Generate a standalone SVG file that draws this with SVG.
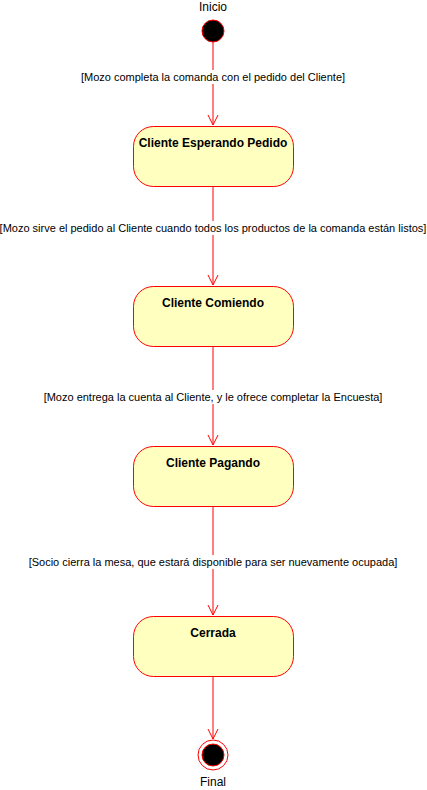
<svg xmlns="http://www.w3.org/2000/svg" width="427" height="790" viewBox="0 0 427 790">
<style>
.state{fill:#ffffc0;stroke:#ff0000;stroke-width:1}
.title{font-family:"Liberation Sans",Arial,sans-serif;font-size:12px;font-weight:bold;fill:#000;text-anchor:middle}
.lbl{font-family:"Liberation Sans",Arial,sans-serif;font-size:11px;fill:#000;text-anchor:middle}
.cap{font-family:"Liberation Sans",Arial,sans-serif;font-size:12px;fill:#000;text-anchor:middle}
.edge{stroke:#ff0000;stroke-width:1;fill:none}
.bg{fill:#ffffff}
</style>
<defs>
<marker id="arr" markerWidth="12" markerHeight="12" refX="10" refY="5" orient="auto" markerUnits="userSpaceOnUse" viewBox="0 0 12 10">
<path d="M0,0 L10,5 L0,10" fill="none" stroke="#ff0000" stroke-width="1"/>
</marker>
</defs>
<rect width="427" height="790" fill="#ffffff"/>
<g id="connectors">
<line class="edge" x1="213" y1="42" x2="213" y2="125" marker-end="url(#arr)"/>
<line class="edge" x1="213" y1="186" x2="213" y2="285" marker-end="url(#arr)"/>
<line class="edge" x1="213" y1="346" x2="213" y2="445" marker-end="url(#arr)"/>
<line class="edge" x1="213" y1="506" x2="213" y2="615" marker-end="url(#arr)"/>
<line class="edge" x1="213" y1="676" x2="213" y2="739" marker-end="url(#arr)"/>
<rect class="bg" x="80" y="70" width="266" height="14"/>
<text class="lbl" x="213" y="81">[Mozo completa la comanda con el pedido del Cliente]</text>
<rect class="bg" x="0" y="221" width="427" height="14"/>
<text class="lbl" x="213" y="232">[Mozo sirve el pedido al Cliente cuando todos los productos de la comanda están listos]</text>
<rect class="bg" x="43" y="390" width="340" height="14"/>
<text class="lbl" x="213" y="401">[Mozo entrega la cuenta al Cliente, y le ofrece completar la Encuesta]</text>
<rect class="bg" x="28" y="555" width="370" height="14"/>
<text class="lbl" x="213" y="566">[Socio cierra la mesa, que estará disponible para ser nuevamente ocupada]</text>
</g>
<g id="inicio">
<circle cx="213" cy="31" r="11" fill="#000" stroke="#ff0000"/>
<text class="cap" x="213" y="11">Inicio</text>
</g>
<g id="esperando">
<rect class="state" x="133.5" y="126.5" width="160" height="60" rx="20" ry="20"/>
<text class="title" x="213" y="147">Cliente Esperando Pedido</text>
</g>
<g id="comiendo">
<rect class="state" x="133.5" y="286.5" width="160" height="60" rx="20" ry="20"/>
<text class="title" x="213" y="307">Cliente Comiendo</text>
</g>
<g id="pagando">
<rect class="state" x="133.5" y="446.5" width="160" height="60" rx="20" ry="20"/>
<text class="title" x="213" y="467">Cliente Pagando</text>
</g>
<g id="cerrada">
<rect class="state" x="133.5" y="616.5" width="160" height="60" rx="20" ry="20"/>
<text class="title" x="213" y="637">Cerrada</text>
</g>
<g id="final">
<circle cx="213" cy="755" r="15" fill="#fff" stroke="#ff0000"/>
<circle cx="213" cy="755" r="11" fill="#000" stroke="#ff0000"/>
<text class="cap" x="213" y="786">Final</text>
</g>
</svg>
